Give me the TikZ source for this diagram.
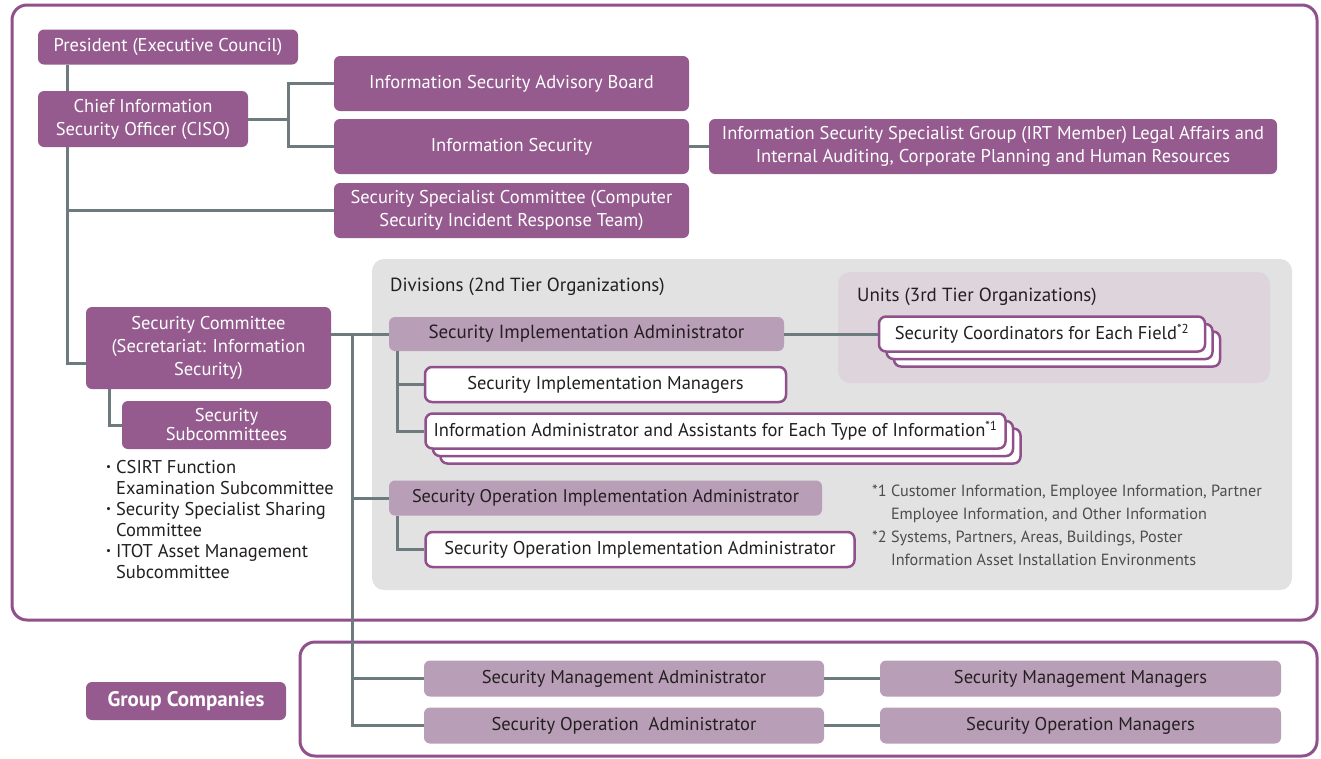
\documentclass[tikz,border=0pt]{standalone}
\usepackage{fontspec}
\setmainfont{PT Sans}
\usetikzlibrary{positioning}
\definecolor{orgpurple}{HTML}{955B8F}
\definecolor{framepurple}{HTML}{8F508B}
\definecolor{lightpurple}{HTML}{B99EB7}
\definecolor{linkgray}{HTML}{6E7B7E}
\definecolor{panelgray}{HTML}{E1E2E1}
\definecolor{unitpink}{HTML}{DDD5DB}
\definecolor{notegray}{HTML}{4D4D4D}
\definecolor{inkblack}{HTML}{231F20}
\newcommand\listdot{{\fontsize{11}{11}\selectfont\raisebox{0.45ex}{\textbullet}}\ }

\begin{document}
\begin{tikzpicture}[x=1pt, y=-1pt,
	every node/.style={font=\fontsize{18.5}{23}\selectfont, inner sep=0pt, align=center},
	box/.style={fill=orgpurple, text=white, rounded corners=6pt},
	lightbox/.style={fill=lightpurple, text=inkblack, rounded corners=6pt, font=\fontsize{19}{23}\selectfont},
	whitebox/.style={draw=framepurple, line width=2.5pt, fill=white, text=inkblack, rounded corners=7pt},
	link/.style={draw=linkgray, line width=3pt},
	frame/.style={draw=framepurple, line width=3pt, rounded corners=15pt}]
	\useasboundingbox (0,0) rectangle (1321,758);
	% frames and panels
	\draw[frame] (12,5) rectangle (1317,620);
	\draw[frame] (300,642) rectangle (1317,756);
	\fill[panelgray, rounded corners=12pt] (372,259) rectangle (1292,590);
	\fill[unitpink, rounded corners=12pt] (838,272) rectangle (1270,383);
	\node[anchor=west, text=inkblack, font=\fontsize{19}{23}\selectfont] (divlabel) at (390,287) {Divisions (2nd Tier Organizations)};
	\node[anchor=west, text=inkblack, font=\fontsize{19}{23}\selectfont] (unitlabel) at (857,297) {Units (3rd Tier Organizations)};

	% top management
	\node[box, minimum width=260pt, minimum height=35pt] (pres) at (168,47) {President (Executive Council)};
	\node[box, minimum width=210pt, minimum height=56pt] (ciso) at (143,119) {Chief Information\\Security Officer (CISO)};
	\node[box, minimum width=355pt, minimum height=55pt] (adv) at (511.5,83.5) {Information Security Advisory Board};
	\node[box, minimum width=355pt, minimum height=55pt] (infosec) at (511.5,146.5) {Information Security};
	\node[box, minimum width=568pt, minimum height=55pt] (isg) at (993,146.5) {Information Security Specialist Group (IRT Member) Legal Affairs and\\Internal Auditing, Corporate Planning and Human Resources};
	\node[box, minimum width=355pt, minimum height=55pt] (cssc) at (511.5,210.5) {Security Specialist Committee (Computer\\Security Incident Response Team)};
	\node[box, minimum width=245pt, minimum height=82pt] (seccom) at (208.5,348) {Security Committee\\(Secretariat: Information\\Security)};
	\node[box, minimum width=209pt, minimum height=48pt, font=\fontsize{18.5}{19}\selectfont] (subc) at (226.5,425) {Security\\Subcommittees};
	\node[anchor=north west, align=left, text=inkblack, font=\fontsize{18.5}{21}\selectfont] (sublist) at (106,460)
		{\listdot CSIRT Function\\\hphantom{\listdot}Examination Subcommittee\\
		 \listdot Security Specialist Sharing\\\hphantom{\listdot}Committee\\
		 \listdot ITOT Asset Management\\\hphantom{\listdot}Subcommittee};

	% divisions and units
	\node[lightbox, minimum width=395pt, minimum height=34pt] (sia) at (586.5,334) {Security Implementation Administrator};
	\foreach \d/\n in {15/c, 7.5/b} \node[whitebox, minimum width=326pt, minimum height=35pt] (coord\n) at (1042+\d,334+\d) {};
	\node[whitebox, minimum width=326pt, minimum height=35pt] (coord) at (1042,334) {Security Coordinators for Each Field\textsuperscript{*2}};
	\node[whitebox, minimum width=361pt, minimum height=35pt] (sim) at (605.5,384.5) {Security Implementation Managers};
	\foreach \d/\n in {15/c, 7.5/b} \node[whitebox, minimum width=580pt, minimum height=35pt] (infoadm\n) at (715.5+\d,431+\d) {};
	\node[whitebox, minimum width=580pt, minimum height=35pt] (infoadm) at (715.5,431) {Information Administrator and Assistants for Each Type of Information\textsuperscript{*1}};
	\node[lightbox, minimum width=433pt, minimum height=35pt, font=\fontsize{18.3}{23}\selectfont] (soia) at (605.5,498) {Security Operation Implementation Administrator};
	\node[whitebox, minimum width=429pt, minimum height=35pt] (soiaw) at (640,549.5) {Security Operation Implementation Administrator};
	\node[anchor=north west, align=left, text=notegray, font=\fontsize{16.2}{23}\selectfont] (notes) at (872,485)
		{*1 Customer Information, Employee Information, Partner\\\hphantom{*1 }Employee Information, and Other Information\\
		 *2 Systems, Partners, Areas, Buildings, Poster\\\hphantom{*2 }Information Asset Installation Environments};

	% group companies
	\node[box, minimum width=200pt, minimum height=38pt, font=\fontsize{21}{24}\selectfont\bfseries] (grp) at (186,701) {Group Companies};
	\node[lightbox, minimum width=400pt, minimum height=36pt, font=\fontsize{18.5}{23}\selectfont] (sma) at (624,678.5) {Security Management Administrator};
	\node[lightbox, minimum width=401pt, minimum height=36pt, font=\fontsize{18.5}{23}\selectfont] (smm) at (1080.5,678.5) {Security Management Managers};
	\node[lightbox, minimum width=400pt, minimum height=36pt, font=\fontsize{18.5}{23}\selectfont] (soa) at (624,725.5) {Security Operation\ \ Administrator};
	\node[lightbox, minimum width=401pt, minimum height=36pt, font=\fontsize{18.5}{23}\selectfont] (som) at (1080.5,725.5) {Security Operation Managers};

	% connectors
	\coordinate (cisotrunk) at ([xshift=30pt]ciso.south west);
	\coordinate (fork) at (288,119);
	\coordinate (trunk) at (352,334);
	\coordinate (siadrop) at ([xshift=9pt]sia.south west);
	\coordinate (soiadrop) at ([xshift=9pt]soia.south west);
	\draw[link] ([xshift=30pt]pres.south west) -- ([xshift=30pt]ciso.north west);
	\draw[link] (cisotrunk) |- ([yshift=-15pt]seccom.west);
	\draw[link] (cisotrunk |- cssc.west) -- (cssc.west);
	\draw[link] (ciso.east) -- (fork);
	\draw[link] (adv.west) -| (fork) |- (infosec.west);
	\draw[link] (infosec.east) -- (isg.west);
	\draw[link] (subc.west) -| ([xshift=24pt]seccom.south west);
	\draw[link] (sia.west -| seccom.east) -- (sia.west);
	\draw[link] (trunk) |- (soa.west);
	\draw[link] (trunk |- soia.west) -- (soia.west);
	\draw[link] (trunk |- sma.west) -- (sma.west);
	\draw[link] (siadrop) |- (infoadm.west);
	\draw[link] (siadrop |- sim.west) -- (sim.west);
	\draw[link] (sia.east) -- (coord.west);
	\draw[link] (soiadrop) |- (soiaw.west);
	\draw[link] (sma.east) -- (smm.west);
	\draw[link] (soa.east) -- (som.west);
\end{tikzpicture}
\end{document}
